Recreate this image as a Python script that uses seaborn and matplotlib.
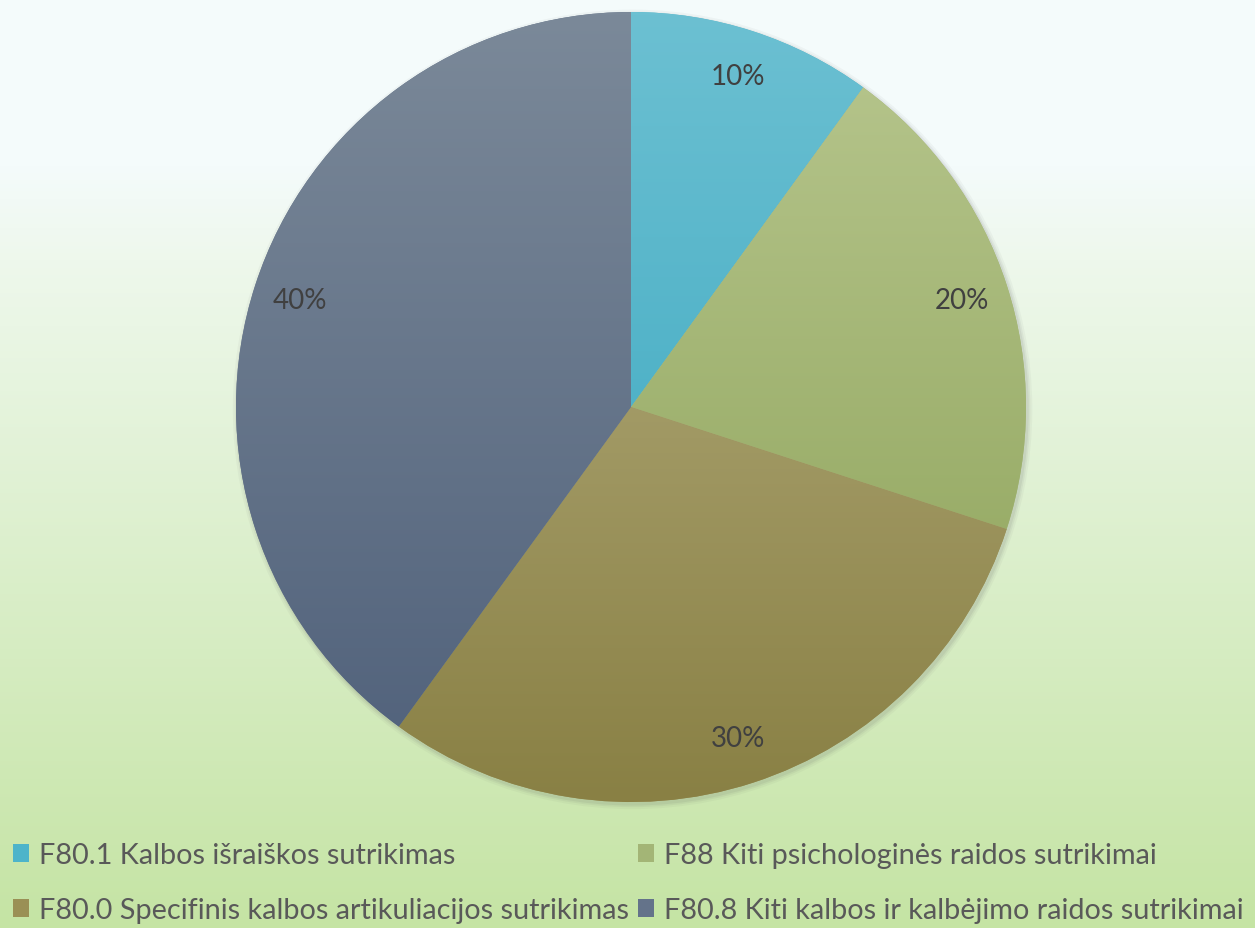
import numpy as np
import matplotlib
matplotlib.use("Agg")
import matplotlib.pyplot as plt
import seaborn as sns
from matplotlib.patches import Patch, Circle
from matplotlib.colors import LinearSegmentedColormap

categories = [
    "F80.1 Kalbos išraiškos sutrikimas",
    "F88 Kiti psichologinės raidos sutrikimai",
    "F80.0 Specifinis kalbos artikuliacijos sutrikimas",
    "F80.8 Kiti kalbos ir kalbėjimo raidos sutrikimai",
]
shares = [10, 20, 30, 40]
top_colors = ["#6cc0d2", "#b8c78f", "#bbb487", "#7b8999"]
bottom_colors = ["#33a4bd", "#8aa055", "#898044", "#4f607a"]
mid_colors = ["#4db4ca", "#a3b576", "#9a9055", "#64738a"]

sns.set_theme(style="white")
plt.rcParams["font.family"] = ["Lato", "DejaVu Sans"]

W, H = 1255, 929
fig = plt.figure(figsize=(W / 100, H / 100), dpi=100)

# background gradient
bg = fig.add_axes([0, 0, 1, 1])
bg_cmap = LinearSegmentedColormap.from_list(
    "bg", [(0, "#c5e4a4"), (0.72, "#eef8ec"), (0.82, "#f4fbfb"), (1, "#f4fbfb")])
bg.imshow(np.linspace(0, 1, 256).reshape(-1, 1), aspect="auto", cmap=bg_cmap,
          extent=[0, 1, 0, 1], origin="lower")
bg.set_axis_off()

cx, cy, r = 631, 408, 395
m = 1.02
R = r * m
ax = fig.add_axes([(cx - R) / W, (H - cy - R) / H, 2 * R / W, 2 * R / H])

# soft shadow
for k, a in zip([1.012, 1.007, 1.003], [0.05, 0.07, 0.09]):
    ax.add_patch(Circle((0.004, -0.006), k, color="#606060", alpha=a, lw=0, zorder=0))

wedges, texts, autotexts = ax.pie(
    shares, startangle=90, counterclock=False, radius=1,
    colors=mid_colors, autopct="%d%%", pctdistance=0.88,
    wedgeprops=dict(linewidth=0),
    textprops=dict(fontsize=20, color="#404040"))

grad = np.linspace(0, 1, 256).reshape(-1, 1)
for w, c0, c1 in zip(wedges, top_colors, bottom_colors):
    cm = LinearSegmentedColormap.from_list("w", [c1, c0])
    im = ax.imshow(grad, cmap=cm, extent=[-1, 1, -1, 1], origin="lower",
                   aspect="auto", zorder=1)
    im.set_clip_path(w)
for t in autotexts:
    t.set_zorder(5)
ax.set_xlim(-m, m)
ax.set_ylim(-m, m)
ax.set_axis_off()

order = [0, 2, 1, 3]
handles = [Patch(facecolor=mid_colors[i], edgecolor="none") for i in order]
labels = [categories[i] for i in order]
fig.legend(handles, labels, ncol=2, loc="lower left", bbox_to_anchor=(0.006, -0.001),
           frameon=False, fontsize=20.8, labelcolor="#595959",
           handlelength=0.55, handleheight=0.55, handletextpad=0.35,
           columnspacing=0.3, labelspacing=1.0, borderaxespad=0.0,
           borderpad=0.2)

fig.savefig("out.png", dpi=100)
